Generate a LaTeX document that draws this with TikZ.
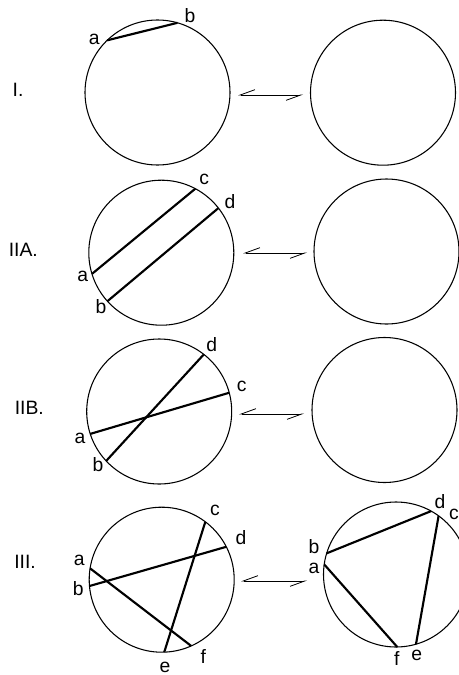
\documentclass[tikz,border=0pt]{standalone}
\usepackage{fontspec}
\setmainfont{Liberation Sans}
\usetikzlibrary{arrows.meta}
\begin{document}
\begin{tikzpicture}[x=0.75pt,y=-0.75pt,
  disc/.style={draw,circle,line width=0.8pt,minimum size=108.75pt,inner sep=0pt,outer sep=0pt},
  chord/.style={line width=1.6pt},
  lbl/.style={font=\fontsize{14.5pt}{16pt}\selectfont,inner sep=0pt},
  harp/.style={line width=0.6pt,{Straight Barb[harpoon,swap,length=11pt,width=8pt]}-{Straight Barb[harpoon,swap,length=11pt,width=8pt]}}]
 \useasboundingbox (0,0) rectangle (459,675);
 % row I
 \node[disc] (L1) at (157.5,92.5) {};
 \node[disc] (R1) at (383,92.7) {};
 \draw[chord] (L1.134.7)--(L1.74.3);
 \node[lbl] (n1) at (18,90) {I.};
 \node[lbl] (a1) at (94.3,39.3) {a};
 \node[lbl] (b1) at (190,15.7) {b};
 \coordinate (s1) at (238,95);
 \coordinate (t1) at (303,95);
 \draw[harp] (s1)--(t1);
 % row IIA
 \node[disc] (L2) at (161.3,252.7) {};
 \node[disc] (R2) at (386.5,251.5) {};
 \draw[chord] (L2.197.6)--(L2.62.7);
 \draw[chord] (L2.222.9)--(L2.38);
 \node[lbl] (n2) at (23.3,250) {IIA.};
 \node[lbl] (a2) at (82.7,276.7) {a};
 \node[lbl] (b2) at (101,306.7) {b};
 \node[lbl] (c2) at (204.3,179) {c};
 \node[lbl] (d2) at (230,201.7) {d};
 \coordinate (s2) at (243,253);
 \coordinate (t2) at (307,253);
 \draw[harp] (s2)--(t2);
 % row IIB
 \node[disc] (L3) at (159.2,411.5) {};
 \node[disc] (R3) at (384.5,410) {};
 \draw[chord] (L3.198.3)--(L3.15.6);
 \draw[chord] (L3.223.3)--(L3.52.7);
 \node[lbl] (n3) at (29.3,408.3) {IIB.};
 \node[lbl] (a3) at (80,438.3) {a};
 \node[lbl] (b3) at (98,465) {b};
 \node[lbl] (c3) at (241.7,386.7) {c};
 \node[lbl] (d3) at (211.7,345) {d};
 \coordinate (s3) at (239,414);
 \coordinate (t3) at (304,414);
 \draw[harp] (s3)--(t3);
 % row III
 \node[disc] (L4) at (161.7,579.7) {};
 \node[disc] (R4) at (396,574.5) {};
 \draw[chord] (L4.171.6)--(L4.-66);
 \draw[chord] (L4.185.7)--(L4.27.8);
 \draw[chord] (L4.53.9)--(L4.-88.7);
 \draw[chord] (R4.163.5)--(R4.61.4);
 \draw[chord] (R4.172.4)--(R4.-89.4);
 \draw[chord] (R4.54)--(R4.-74.9);
 \node[lbl] (n4) at (25,561.7) {III.};
 \node[lbl] (a4) at (79.3,560) {a};
 \node[lbl] (b4) at (78.3,588.3) {b};
 \node[lbl] (c4) at (215,510) {c};
 \node[lbl] (d4) at (241,537.7) {d};
 \node[lbl] (e4) at (165,667) {e};
 \node[lbl] (f4) at (203.3,656.7) {f};
 \node[lbl] (b5) at (314,546.7) {b};
 \node[lbl] (a5) at (314,568.3) {a};
 \node[lbl] (d5) at (440,501.7) {d};
 \node[lbl] (c5) at (454,514.3) {c};
 \node[lbl] (f5) at (396.7,658.3) {f};
 \node[lbl] (e5) at (416.7,655) {e};
 \coordinate (s4) at (241,581);
 \coordinate (t4) at (307,581);
 \draw[harp] (s4)--(t4);
\end{tikzpicture}
\end{document}
